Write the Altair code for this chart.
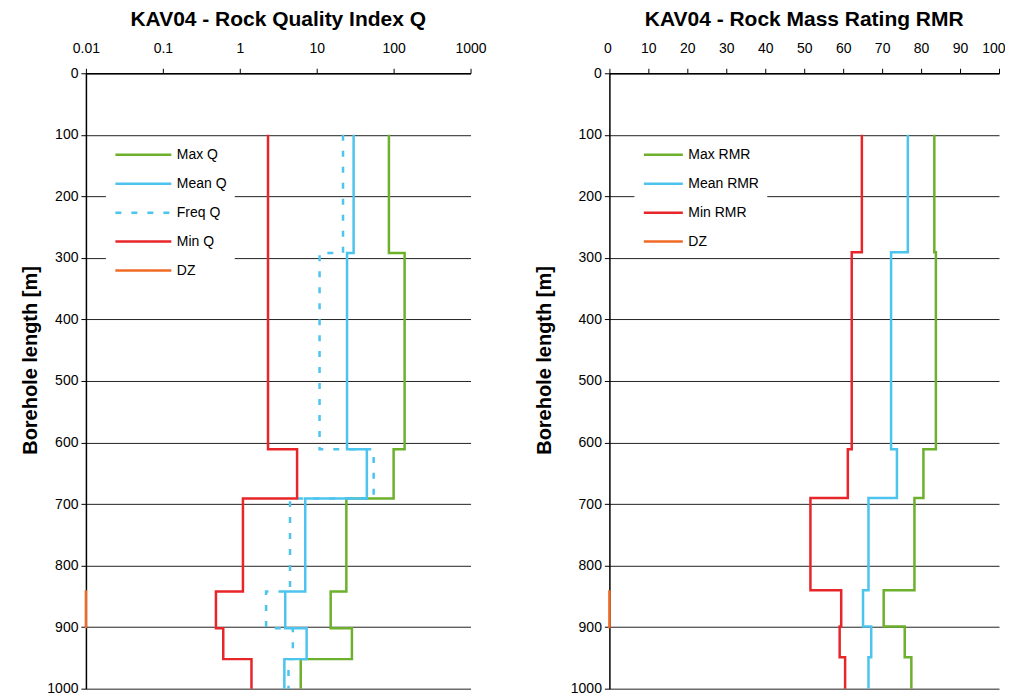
import altair as alt
import pandas as pd

# ---------------- data ----------------
q_depths = [100, 292, 611, 691, 842, 902, 952, 1000]
max_q = [86.9, 139, 100, 24.3, 15.2, 28.7, 6.2]
mean_q = [30.2, 24.8, 44.9, 7.1, 3.9, 7.4, 3.8]
freq_q = [22.0, 10.9, 55.0, 4.5, 2.2, 4.9, 4.3]
min_q = [2.33, 2.33, 5.56, 1.1, 0.49, 0.61, 1.42]

r_depths = [100, 291, 611, 690, 840, 899, 949, 1000]
max_rmr = [83.4, 83.8, 80.6, 78.3, 70.4, 75.8, 77.5]
mean_rmr = [76.6, 72.3, 73.8, 66.5, 65.1, 67.2, 66.5]
min_rmr = [64.8, 62.2, 61.2, 51.6, 59.5, 59.1, 60.5]

dz_depths = [840, 902]
dz_q = 0.01
dz_rmr = 0

q_ticks = [0.01, 0.1, 1, 10, 100, 1000]
rmr_ticks = [0, 10, 20, 30, 40, 50, 60, 70, 80, 90, 100]
depth_ticks = [0, 100, 200, 300, 400, 500, 600, 700, 800, 900, 1000]

GREEN, BLUE, RED, ORANGE = "#6cb02c", "#4cc4ee", "#e8262a", "#ef6a24"
FONT = "Liberation Sans"


def steps(name, depths, values):
    rows = []
    for i, v in enumerate(values):
        rows.append({"series": name, "value": v, "depth": depths[i], "idx": 2 * i})
        rows.append({"series": name, "value": v, "depth": depths[i + 1], "idx": 2 * i + 1})
    return rows


q_rows = (steps("Max Q", q_depths, max_q) + steps("Mean Q", q_depths, mean_q)
          + steps("Freq Q", q_depths, freq_q) + steps("Min Q", q_depths, min_q)
          + [{"series": "DZ", "value": dz_q, "depth": d, "idx": i} for i, d in enumerate(dz_depths)])
r_rows = (steps("Max RMR", r_depths, max_rmr) + steps("Mean RMR", r_depths, mean_rmr)
          + steps("Min RMR", r_depths, min_rmr)
          + [{"series": "DZ", "value": dz_rmr, "depth": d, "idx": i} for i, d in enumerate(dz_depths)])
q_df = pd.DataFrame(q_rows)
r_df = pd.DataFrame(r_rows)


def y_enc(title_pad):
    return alt.Y("depth:Q", scale=alt.Scale(domain=[0, 1000], reverse=True, nice=False),
                 axis=alt.Axis(values=depth_ticks, format="d", title="Borehole length [m]",
                               titleY=287, titlePadding=title_pad))


def legend(sym_len, x, y):
    return alt.Legend(title=None, orient="none", legendX=x, legendY=y,
                      symbolType="stroke", symbolSize=sym_len * sym_len,
                      clipHeight=15, labelFontSize=14, labelFont=FONT, labelColor="#000",
                      labelOffset=4, rowPadding=14, padding=8,
                      fillColor="white", strokeColor=None)


q_domain = ["Max Q", "Mean Q", "Freq Q", "Min Q", "DZ"]
q_leg = legend(56, 20, 66)
left = alt.Chart(q_df).mark_line().encode(
    x=alt.X("value:Q", scale=alt.Scale(type="log", domain=[0.01, 1000], nice=False),
            axis=alt.Axis(orient="top", values=q_ticks, format="~g", title=None,
                          labelFlush=False)),
    y=y_enc(6),
    color=alt.Color("series:N", scale=alt.Scale(domain=q_domain,
                    range=[GREEN, BLUE, BLUE, RED, ORANGE]), legend=q_leg),
    strokeDash=alt.StrokeDash("series:N", scale=alt.Scale(domain=q_domain,
                    range=[[1, 0], [1, 0], [6, 10], [1, 0], [1, 0]]), legend=q_leg),
    strokeWidth=alt.StrokeWidth("series:N", scale=alt.Scale(domain=q_domain,
                    range=[2.5, 2.5, 2.5, 2.5, 4]), legend=q_leg),
    order="idx:Q",
).properties(width=385, height=616,
             title=alt.Title("KAV04 - Rock Quality Index Q"))

r_domain = ["Max RMR", "Mean RMR", "Min RMR", "DZ"]
r_leg = legend(39, 25, 66)
right = alt.Chart(r_df).mark_line().encode(
    x=alt.X("value:Q", scale=alt.Scale(domain=[0, 100], nice=False),
            axis=alt.Axis(orient="top", values=rmr_ticks, title=None,
                          labelFlush=True, labelFlushOffset=6)),
    y=y_enc(16),
    color=alt.Color("series:N", scale=alt.Scale(domain=r_domain,
                    range=[GREEN, BLUE, RED, ORANGE]), legend=r_leg),
    strokeWidth=alt.StrokeWidth("series:N", scale=alt.Scale(domain=r_domain,
                    range=[2.5, 2.5, 2.5, 4]), legend=r_leg),
    order="idx:Q",
).properties(width=390, height=616,
             title=alt.Title("KAV04 - Rock Mass Rating RMR"))

chart = alt.hconcat(left, right, spacing=47).resolve_scale(
    color="independent", strokeDash="independent", strokeWidth="independent"
).resolve_legend(color="independent", strokeDash="independent", strokeWidth="independent"
).configure(padding={"left": 12, "top": 1, "right": 0, "bottom": 0}
).configure_view(stroke=None
).configure_title(font=FONT, fontSize=21, fontWeight="bold", color="#000", offset=11
).configure_axis(labelFont=FONT, labelFontSize=14, labelColor="#000",
                 titleFont=FONT, titleFontSize=20, titleFontWeight="bold", titleColor="#000",
                 domainColor="#000", domainWidth=1.5, tickColor="#000", tickSize=5,
                 gridColor="#222", gridWidth=1, gridOpacity=1
).configure_axisX(grid=False, labelPadding=13
).configure_axisY(grid=True, labelPadding=3)

chart.save("out.html", embed_options={"renderer": "svg", "actions": False})
